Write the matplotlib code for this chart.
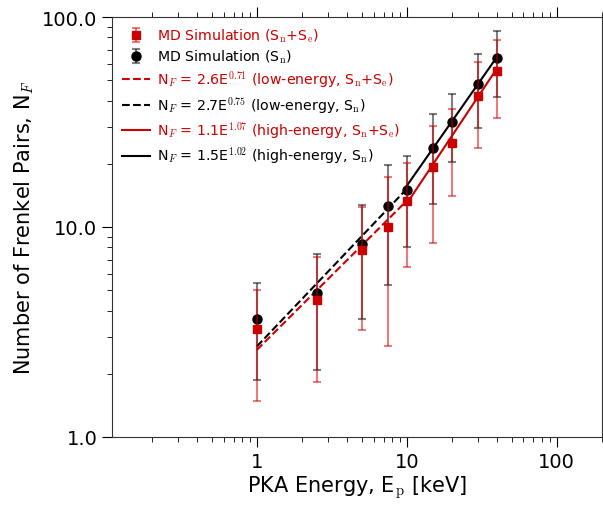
import numpy as np
import matplotlib
matplotlib.use("Agg")
from matplotlib import pyplot as plt

plt.rcParams['mathtext.fontset'] = 'cm'
plt.rcParams['font.family'] = 'DejaVu Sans'

# PKA energies [keV]
energy = [1, 2.5, 5, 7.5, 10, 15, 20, 30, 40]

# MD Simulation (Sn), mean and error bar ends
nf_sn = [3.65, 4.85, 8.3, 12.6, 15.0, 23.9, 31.6, 47.9, 63.7]
nf_sn_hi = [5.4, 7.4, 12.7, 19.8, 21.9, 34.5, 42.8, 66.4, 85.7]
nf_sn_lo = [1.86, 2.08, 3.66, 5.3, 8.07, 12.9, 20.4, 29.7, 41.4]

# MD Simulation (Sn+Se)
nf_snse = [3.27, 4.51, 7.8, 10.0, 13.3, 19.3, 25.2, 42.0, 55.1]
nf_snse_hi = [5.03, 7.18, 12.4, 17.3, 20.2, 30.3, 36.4, 60.8, 77.4]
nf_snse_lo = [1.49, 1.82, 3.24, 2.72, 6.43, 8.41, 14.0, 23.9, 33.0]

# fit coefficients N_F = A * E^b
fit_low_snse = (2.6, 0.71)
fit_low_sn = (2.7, 0.75)
fit_high_snse = (1.1, 1.07)
fit_high_sn = (1.5, 1.02)
e_low = np.array([1, 10])
e_high = np.array([10, 40])

red = '#cc0000'

fig = plt.figure(figsize=(6.03, 5.10), dpi=100)
ax = fig.add_axes([0.1857, 0.1412, 0.8123, 0.8235])

def err(y, hi, lo):
    y = np.array(y)
    return [y - np.array(lo), np.array(hi) - y]

h1 = ax.errorbar(energy, nf_snse, yerr=err(nf_snse, nf_snse_hi, nf_snse_lo), fmt='s',
                 color=red, ms=6, ecolor=(0.8, 0, 0, 0.5), elinewidth=1.5, capsize=3,
                 capthick=1.5, label=r'MD Simulation (S$_{\rm n}$+S$_{\rm e}$)', zorder=3)
h2 = ax.errorbar(energy, nf_sn, yerr=err(nf_sn, nf_sn_hi, nf_sn_lo), fmt='o',
                 color='k', ms=6.5, ecolor=(0, 0, 0, 0.5), elinewidth=1.5, capsize=3,
                 capthick=1.5, label=r'MD Simulation (S$_{\rm n}$)', zorder=2)

l1, = ax.plot(e_low, fit_low_snse[0] * e_low ** fit_low_snse[1], '--', color=red, lw=1.5,
              label=r'N$_F$ = 2.6E$^{0.71}$ (low-energy, S$_{\rm n}$+S$_{\rm e}$)')
l2, = ax.plot(e_low, fit_low_sn[0] * e_low ** fit_low_sn[1], '--', color='k', lw=1.5,
              label=r'N$_F$ = 2.7E$^{0.75}$ (low-energy, S$_{\rm n}$)')
l3, = ax.plot(e_high, fit_high_snse[0] * e_high ** fit_high_snse[1], '-', color=red, lw=1.5,
              label=r'N$_F$ = 1.1E$^{1.07}$ (high-energy, S$_{\rm n}$+S$_{\rm e}$)')
l4, = ax.plot(e_high, fit_high_sn[0] * e_high ** fit_high_sn[1], '-', color='k', lw=1.5,
              label=r'N$_F$ = 1.5E$^{1.02}$ (high-energy, S$_{\rm n}$)')

ax.set_xscale('log')
ax.set_yscale('log')
ax.set_xlim(0.108, 200)
ax.set_ylim(1, 100)
ax.set_xticks([1, 10, 100])
ax.set_xticklabels(['1', '10', '100'])
ax.set_yticks([1, 10, 100])
ax.set_yticklabels(['1.0', '10.0', '100.0'])
ax.tick_params(which='both', direction='out', top=True, right=True, labelsize=14)
ax.tick_params(which='major', length=7)
ax.tick_params(which='minor', length=3.5)
for s in ax.spines.values():
    s.set_color('#333333')

ax.set_xlabel(r'PKA Energy, E$_{\rm p}$ [keV]', fontsize=15, labelpad=2)
ax.set_ylabel(r'Number of Frenkel Pairs, N$_F$', fontsize=15)

handles = [h1, h2, l1, l2, l3, l4]
leg = ax.legend(handles, [h.get_label() for h in handles], loc='upper left',
                frameon=False, fontsize=10.2, handlelength=2, handletextpad=0.45,
                labelspacing=0.25, numpoints=1, borderaxespad=0.3)
for txt, c in zip(leg.get_texts(), [red, 'k', red, 'k', red, 'k']):
    txt.set_color(c)

fig.savefig('out.png', dpi=100)
